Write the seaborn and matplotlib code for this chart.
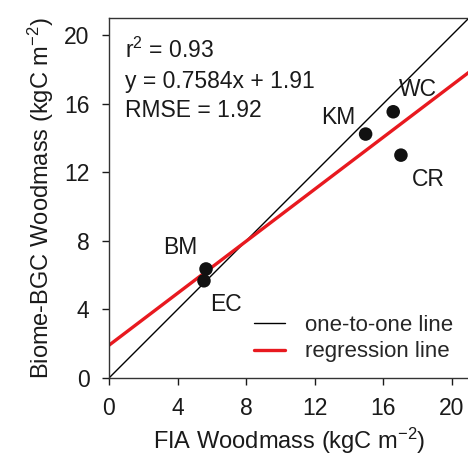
import numpy as np
import matplotlib
matplotlib.use('Agg')
import matplotlib.pyplot as plt
import seaborn as sns
import pandas as pd

# datos
sitios = ['BM', 'EC', 'KM', 'WC', 'CR']
fia_wood = [5.66, 5.54, 14.97, 16.58, 17.03]
bgc_wood = [6.36, 5.67, 14.23, 15.53, 13.00]
# posiciones de las etiquetas de cada sitio
label_x = [4.14, 6.82, 13.35, 18.0, 18.6]
label_y = [7.64, 4.31, 15.2, 16.85, 11.55]

pendiente = 0.7584
intercepto = 1.91
linea_x = [0, 21]
ticks = [0, 4, 8, 12, 16, 20]

sns.set_style('ticks')
plt.rcParams['font.family'] = ['Liberation Sans', 'DejaVu Sans']
plt.rcParams['mathtext.default'] = 'regular'
TXT = '#1a1a1a'
FS = 16.5

df = pd.DataFrame({'sitio': sitios, 'fia': fia_wood, 'bgc': bgc_wood})

fig = plt.figure(figsize=(4.68, 4.58), dpi=100)
ax = fig.add_axes([0.2329, 0.1747, 0.7692, 0.786])

ax.plot(linea_x, linea_x, color='black', lw=1.0, label='one-to-one line', zorder=2)
reg_y = [pendiente * x + intercepto for x in linea_x]
ax.plot(linea_x, reg_y, color='#e8191f', lw=2.4, label='regression line', zorder=2)

sns.scatterplot(data=df, x='fia', y='bgc', ax=ax, color='#111111', s=95,
                edgecolor='none', zorder=3, legend=False)

for s, lx, ly in zip(sitios, label_x, label_y):
    ax.text(lx, ly, s, fontsize=FS, color=TXT, ha='center', va='center')

ax.text(0.93, 19.1, 'r$^{2}$ = 0.93', fontsize=FS, color=TXT, va='center')
ax.text(0.93, 17.3, 'y = 0.7584x + 1.91', fontsize=FS, color=TXT, va='center')
ax.text(0.93, 15.6, 'RMSE = 1.92', fontsize=FS, color=TXT, va='center')

ax.set_xlim(0, 21)
ax.set_ylim(0, 21)
ax.set_xticks(ticks)
ax.set_yticks(ticks)
ax.tick_params(direction='out', length=5, width=1, labelsize=FS, colors=TXT)
ax.tick_params(axis='x', pad=9)
ax.tick_params(axis='y', pad=9)
for sp in ax.spines.values():
    sp.set_color('#333333')
    sp.set_linewidth(1)
    sp.set_visible(True)

ax.set_xlabel('FIA Woodmass (kgC m$^{-2}$)', fontsize=17, color=TXT, labelpad=4)
ax.set_ylabel('Biome-BGC Woodmass (kgC m$^{-2}$)', fontsize=17, color=TXT, labelpad=6)

ax.legend(loc='lower right', bbox_to_anchor=(1.0, 0.0), frameon=False, fontsize=16,
          handlelength=1.4, handletextpad=0.9, labelspacing=0.25, borderaxespad=0.3)

plt.savefig('out.png', dpi=100)
